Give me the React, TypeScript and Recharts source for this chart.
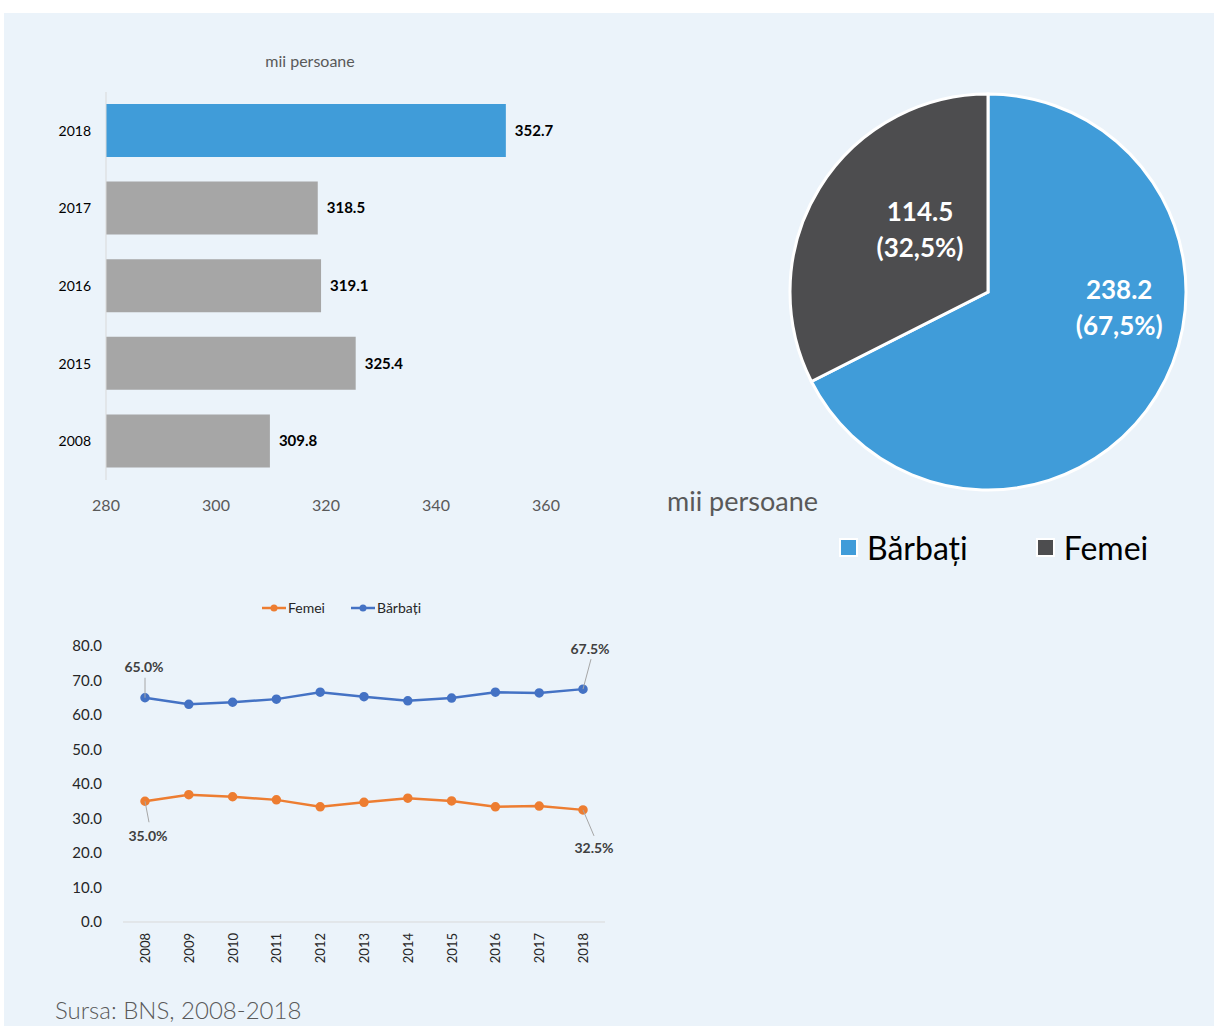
import * as React from "react";
import {
  BarChart,
  Bar,
  XAxis,
  YAxis,
  Cell,
  LabelList,
  PieChart,
  Pie,
  Legend,
  LineChart,
  Line,
} from "recharts";

const FONT = "Lato, 'Open Sans', sans-serif";

// bar chart: employed persons, thousands
const barYears = ["2018", "2017", "2016", "2015", "2008"];
const barValues = [352.7, 318.5, 319.1, 325.4, 309.8];
const barTicks = [280, 300, 320, 340, 360];

// pie: 2018 split by sex
const pieNames = ["Bărbați", "Femei"];
const pieValues = [238.2, 114.5];

// line chart: share by sex, %
const lineYears = ["2008", "2009", "2010", "2011", "2012", "2013", "2014", "2015", "2016", "2017", "2018"];
const femeiShare = [35.0, 36.9, 36.3, 35.4, 33.4, 34.7, 35.9, 35.1, 33.4, 33.6, 32.5];
const barbatiShare = [65.0, 63.1, 63.7, 64.6, 66.6, 65.3, 64.1, 64.9, 66.6, 66.4, 67.5];
const lineTicks = [0, 10, 20, 30, 40, 50, 60, 70, 80];

const BLUE = "#409CD9";
const GRAY = "#A6A6A6";
const DARK = "#4D4D4F";
const ORANGE = "#ED7D31";
const LBLUE = "#4472C4";

const barData = barYears.map((year, i) => ({ year, value: barValues[i] }));
const pieData = pieNames.map((name, i) => ({ name, value: pieValues[i] }));
const lineData = lineYears.map((year, i) => ({
  year,
  Femei: femeiShare[i],
  Barbati: barbatiShare[i],
}));

// where the pie labels sit (angle in degrees, fraction of radius)
const PIE_LABEL_SPOTS = [
  { angle: -6.5, r: 0.667 },
  { angle: 137.2, r: 0.468 },
];

const renderPieLabel = (props: any) => {
  const { cx, cy, outerRadius, index, value, percent } = props;
  const spot = PIE_LABEL_SPOTS[index];
  const rad = (spot.angle * Math.PI) / 180;
  const x = cx + spot.r * outerRadius * Math.cos(rad);
  const y = cy - spot.r * outerRadius * Math.sin(rad);
  const pct = (percent * 100).toFixed(1).replace(".", ",");
  return (
    <text
      x={x}
      y={y}
      fill="#fff"
      textAnchor="middle"
      fontFamily={FONT}
      fontWeight="bold"
      fontSize={26}
    >
      <tspan x={x} y={y - 18} dominantBaseline="central">
        {value.toFixed(1)}
      </tspan>
      <tspan x={x} y={y + 18} dominantBaseline="central">
        ({pct}%)
      </tspan>
    </text>
  );
};

const PieLegend = ({ payload }: any) => (
  <div style={{ display: "flex", fontFamily: FONT, fontSize: 32, color: "#000" }}>
    {(payload || []).map((item: any, i: number) => (
      <div key={i} style={{ display: "flex", alignItems: "center", marginRight: 68 }}>
        <span
          style={{
            display: "inline-block",
            width: 15,
            height: 15,
            background: item.color,
            border: "2px solid #fff",
            marginRight: 9,
          }}
        />
        {item.value}
      </div>
    ))}
  </div>
);

const lineLegendItems = [
  { name: "Femei", color: ORANGE },
  { name: "Bărbați", color: LBLUE },
];

const LineLegend = () => (
  <div style={{ display: "flex", fontFamily: FONT, fontSize: 14, color: "#262626" }}>
    {lineLegendItems.map((item) => (
      <div key={item.name} style={{ display: "flex", alignItems: "center", marginRight: 26 }}>
        <svg width={24} height={10} style={{ marginRight: 2 }}>
          <line x1={0} y1={5} x2={24} y2={5} stroke={item.color} strokeWidth={2.5} />
          <circle cx={12} cy={5} r={3.5} fill={item.color} />
        </svg>
        {item.name}
      </div>
    ))}
  </div>
);

const YearTick = ({ x, y, payload }: any) => (
  <text
    x={x}
    y={y}
    transform={`rotate(-90, ${x}, ${y})`}
    textAnchor="end"
    dominantBaseline="central"
    fontFamily={FONT}
    fontSize={13}
    fill="#262626"
  >
    {payload.value}
  </text>
);

// label offsets for first / last point: [label dx, dy, leader end dx, dy]
const END_LABELS: Record<string, number[][]> = {
  Barbati: [
    [-1, -31, 0, -20],
    [7, -41, 8, -30],
  ],
  Femei: [
    [3, 34, 4, 21],
    [11, 38, 11, 26],
  ],
};

const makeEndLabel = (key: string) => (props: any) => {
  const { x, y, value, index } = props;
  const last = lineYears.length - 1;
  if (index !== 0 && index !== last) return null;
  const o = END_LABELS[key][index === 0 ? 0 : 1];
  return (
    <g>
      <line x1={x} y1={y} x2={x + o[2]} y2={y + o[3]} stroke="#a6a6a6" strokeWidth={1} />
      <text
        x={x + o[0]}
        y={y + o[1]}
        textAnchor="middle"
        dominantBaseline="central"
        fontFamily={FONT}
        fontWeight="bold"
        fontSize={14}
        fill="#404040"
      >
        {Number(value).toFixed(1)}%
      </text>
    </g>
  );
};

export default function App() {
  return (
    <div
      style={{
        position: "absolute",
        left: 0,
        top: 0,
        width: 1214,
        height: 1026,
        background: "#fff",
        overflow: "hidden",
        fontFamily: FONT,
      }}
    >
      <div
        style={{
          position: "absolute",
          left: 4,
          top: 13,
          right: 0,
          bottom: 0,
          background: "#EBF3FA",
        }}
      />

      {/* bar chart */}
      <div
        style={{
          position: "absolute",
          left: 210,
          top: 51,
          width: 200,
          textAlign: "center",
          fontSize: 16,
          color: "#595959",
        }}
      >
        mii persoane
      </div>
      <div style={{ position: "absolute", left: 0, top: 0 }}>
        <BarChart
          width={620}
          height={530}
          data={barData}
          layout="vertical"
          margin={{ top: 92, right: 74, bottom: 20, left: 46 }}
          barSize={53}
        >
          <XAxis
            type="number"
            domain={[280, 360]}
            ticks={barTicks}
            axisLine={false}
            tickLine={false}
            tickMargin={14}
            height={30}
            tick={{ fill: "#595959", fontSize: 16, fontFamily: FONT }}
          />
          <YAxis
            type="category"
            dataKey="year"
            width={60}
            axisLine={{ stroke: "#d9d9d9" }}
            tickLine={false}
            tickMargin={9}
            tick={{ fill: "#000", fontSize: 14, fontFamily: FONT }}
          />
          <Bar dataKey="value" isAnimationActive={false}>
            {barData.map((d) => (
              <Cell key={d.year} fill={d.year === "2018" ? BLUE : GRAY} />
            ))}
            <LabelList
              dataKey="value"
              position="right"
              offset={9}
              formatter={(v: any) => Number(v).toFixed(1)}
              style={{ fill: "#000", fontSize: 15, fontWeight: "bold", fontFamily: FONT }}
            />
          </Bar>
        </BarChart>
      </div>

      {/* pie */}
      <div style={{ position: "absolute", left: 760, top: 80 }}>
        <PieChart width={454} height={500} margin={{ top: 0, right: 0, bottom: 0, left: 0 }}>
          <Pie
            data={pieData}
            dataKey="value"
            nameKey="name"
            cx={228}
            cy={212}
            outerRadius={198}
            startAngle={90}
            endAngle={-270}
            stroke="#fff"
            strokeWidth={3}
            label={renderPieLabel}
            labelLine={false}
            isAnimationActive={false}
          >
            <Cell fill={BLUE} />
            <Cell fill={DARK} />
          </Pie>
          <Legend
            content={<PieLegend />}
            wrapperStyle={{ position: "absolute", left: 79, top: 448, width: 380 }}
          />
        </PieChart>
      </div>
      <div
        style={{
          position: "absolute",
          left: 667,
          top: 484,
          fontSize: 27,
          color: "#595959",
        }}
      >
        mii persoane
      </div>

      {/* line chart */}
      <div style={{ position: "absolute", left: 262, top: 599 }}>
        <LineLegend />
      </div>
      <div style={{ position: "absolute", left: 0, top: 590 }}>
        <LineChart
          width={640}
          height={400}
          data={lineData}
          margin={{ top: 56, right: 35, bottom: 18, left: 63 }}
        >
          <XAxis
            dataKey="year"
            padding={{ left: 22, right: 22 }}
            axisLine={{ stroke: "#d9d9d9" }}
            tickLine={false}
            tickMargin={5}
            height={50}
            interval={0}
            tick={<YearTick />}
          />
          <YAxis
            domain={[0, 80]}
            ticks={lineTicks}
            width={60}
            axisLine={false}
            tickLine={false}
            tickMargin={15}
            tickFormatter={(v: number) => v.toFixed(1)}
            tick={{ fill: "#262626", fontSize: 15, fontFamily: FONT }}
          />
          <Line
            dataKey="Femei"
            name="Femei"
            stroke={ORANGE}
            strokeWidth={2.5}
            dot={{ r: 3.5, fill: ORANGE, stroke: ORANGE }}
            isAnimationActive={false}
          >
            <LabelList dataKey="Femei" content={makeEndLabel("Femei")} />
          </Line>
          <Line
            dataKey="Barbati"
            name="Bărbați"
            stroke={LBLUE}
            strokeWidth={2.5}
            dot={{ r: 3.5, fill: LBLUE, stroke: LBLUE }}
            isAnimationActive={false}
          >
            <LabelList dataKey="Barbati" content={makeEndLabel("Barbati")} />
          </Line>
        </LineChart>
      </div>

      <div
        style={{
          position: "absolute",
          left: 55,
          top: 995,
          fontSize: 24,
          fontWeight: 300,
          color: "#595959",
        }}
      >
        Sursa: BNS, 2008-2018
      </div>
    </div>
  );
}
